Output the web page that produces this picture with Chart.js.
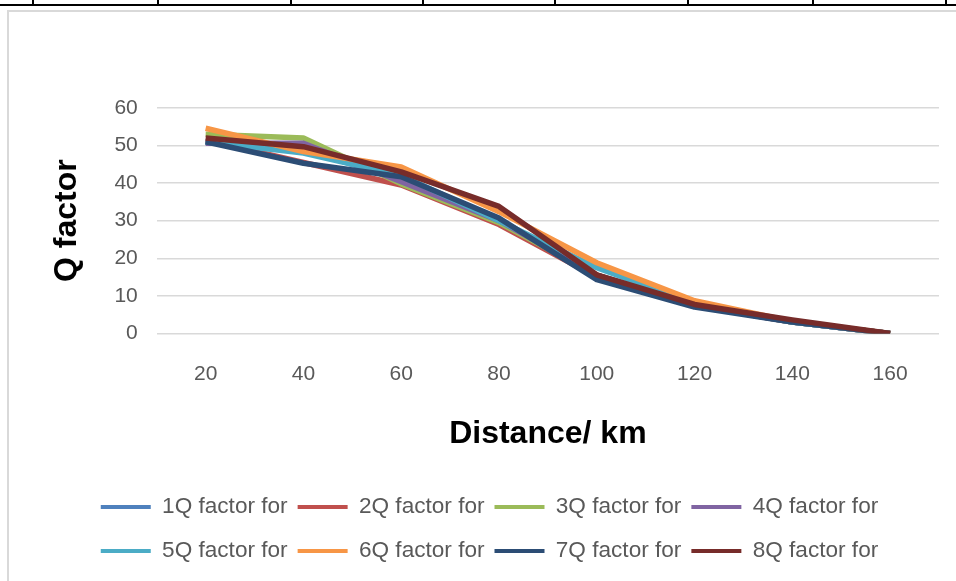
<!DOCTYPE html>
<html>
<head>
<meta charset="utf-8">
<script src="https://cdn.jsdelivr.net/npm/chart.js@4"></script>
<style>
html, body { margin: 0; padding: 0; background: #fff; width: 956px; height: 581px; overflow: hidden; }
#rule { position: absolute; left: 0; top: 4px; width: 956px; height: 2px; background: #000; }
.cell { position: absolute; top: 0; width: 2px; height: 5px; background: #000; }
#frame { position: absolute; left: 7px; top: 10px; width: 1000px; height: 1000px; border: 2px solid #d9d9d9; box-sizing: border-box; }
#wrap { position: absolute; left: 0; top: 0; width: 956px; height: 581px; }
</style>
</head>
<body>
<div id="rule"></div>
<div class="cell" style="left:32px"></div>
<div class="cell" style="left:157px"></div>
<div class="cell" style="left:290px"></div>
<div class="cell" style="left:422px"></div>
<div class="cell" style="left:554px"></div>
<div class="cell" style="left:687px"></div>
<div class="cell" style="left:812px"></div>
<div class="cell" style="left:945px"></div>
<div id="frame"></div>
<div id="wrap"><canvas id="qChart"></canvas></div>
<script>
// distances along the x axis (km)
var DISTANCES = ['20', '40', '60', '80', '100', '120', '140', '160'];
var SERIES_NAMES = ['1Q factor for', '2Q factor for', '3Q factor for', '4Q factor for',
                    '5Q factor for', '6Q factor for', '7Q factor for', '8Q factor for'];

// Q factor, one array per series
var Q1 = [51.0, 49.0, 41.0, 30.0, 15.5, 7.5, 3.0, 0];
var Q2 = [51.5, 45.5, 39.5, 29.0, 15.0, 7.5, 3.0, 0];
var Q3 = [53.0, 52.0, 39.8, 29.5, 15.5, 7.5, 3.0, 0];
var Q4 = [50.6, 50.6, 40.4, 30.0, 15.5, 7.5, 3.0, 0];
var Q5 = [51.0, 48.0, 42.0, 30.0, 17.5, 8.0, 3.0, 0];
var Q6 = [54.6, 48.4, 44.3, 32.4, 18.8, 8.7, 3.2, 0];
var Q7 = [51.0, 45.3, 41.7, 30.7, 14.3, 7.0, 3.0, 0];
var Q8 = [52.0, 49.7, 43.0, 33.8, 15.6, 7.7, 3.6, 0];

var Y_TICKS = { min: 0, max: 60, step: 10 };

var COLORS = ['#4F81BD', '#C0504D', '#9BBB59', '#8064A2',
              '#4BACC6', '#F79646', '#2C4D75', '#772C2A'];
var FONT = 'Liberation Sans, Arial, sans-serif';

var datasets = [Q1, Q2, Q3, Q4, Q5, Q6, Q7, Q8].map(function (values, i) {
    return {
        label: SERIES_NAMES[i],
        data: values,
        borderColor: COLORS[i],
        backgroundColor: COLORS[i],
        borderWidth: 5.5,
        borderJoinStyle: 'round',
        pointRadius: 0,
        tension: 0,
        order: 8 - i  // last series on top, as in Excel
    };
});

// legend symbol: a thin line in the middle of a tall box (keeps the row spacing)
var legendLines = {
    id: 'legendLines',
    beforeDraw: function (chart) {
        var legend = chart.legend;
        if (!legend || !legend.legendHitBoxes) return;
        legend.legendItems.forEach(function (item, i) {
            var box = legend.legendHitBoxes[i];
            var color = COLORS[item.datasetIndex];
            var g = chart.ctx.createLinearGradient(0, box.top, 0, box.top + box.height);
            var a = (box.height / 2 - 1.8) / box.height;
            var b = (box.height / 2 + 1.8) / box.height;
            g.addColorStop(0, 'rgba(0,0,0,0)');
            g.addColorStop(a, 'rgba(0,0,0,0)');
            g.addColorStop(a, color);
            g.addColorStop(b, color);
            g.addColorStop(b, 'rgba(0,0,0,0)');
            g.addColorStop(1, 'rgba(0,0,0,0)');
            item.fillStyle = g;
        });
    }
};

var CHART = new Chart(document.getElementById('qChart'), {
    type: 'line',
    data: { labels: DISTANCES, datasets: datasets },
    plugins: [legendLines],
    options: {
        responsive: true,
        maintainAspectRatio: false,
        animation: false,
        layout: { padding: { left: 40, right: 17, top: 108, bottom: 3 } },
        plugins: {
            tooltip: { enabled: false },
            legend: {
                position: 'bottom',
                labels: {
                    boxWidth: 50,
                    boxHeight: 34,
                    padding: 10,
                    color: '#595959',
                    font: { family: FONT, size: 22.6 },
                    generateLabels: function (chart) {
                        return chart.data.datasets.map(function (ds, i) {
                            return { text: ds.label, datasetIndex: i, fillStyle: ds.borderColor,
                                     strokeStyle: ds.borderColor, lineWidth: 0, hidden: false,
                                     fontColor: '#595959' };
                        });
                    }
                }
            }
        },
        scales: {
            x: {
                offset: true,
                grid: { display: false, drawTicks: false },
                border: { display: false },
                ticks: { color: '#595959', font: { family: FONT, size: 21 }, padding: 28, maxRotation: 0 },
                title: {
                    display: true, text: 'Distance/ km', color: '#000',
                    font: { family: FONT, size: 32, weight: 'bold' },
                    padding: { top: 0, bottom: 27 }
                }
            },
            y: {
                min: Y_TICKS.min,
                max: Y_TICKS.max,
                grid: { color: '#d9d9d9', lineWidth: 1.5, drawTicks: false },
                border: { display: false },
                ticks: { stepSize: Y_TICKS.step, color: '#595959', font: { family: FONT, size: 21 }, padding: 19 },
                title: {
                    display: true, text: 'Q factor', color: '#000',
                    font: { family: FONT, size: 32, weight: 'bold' },
                    padding: { top: 8, bottom: 9 }
                }
            }
        }
    }
});
</script>
</body>
</html>
